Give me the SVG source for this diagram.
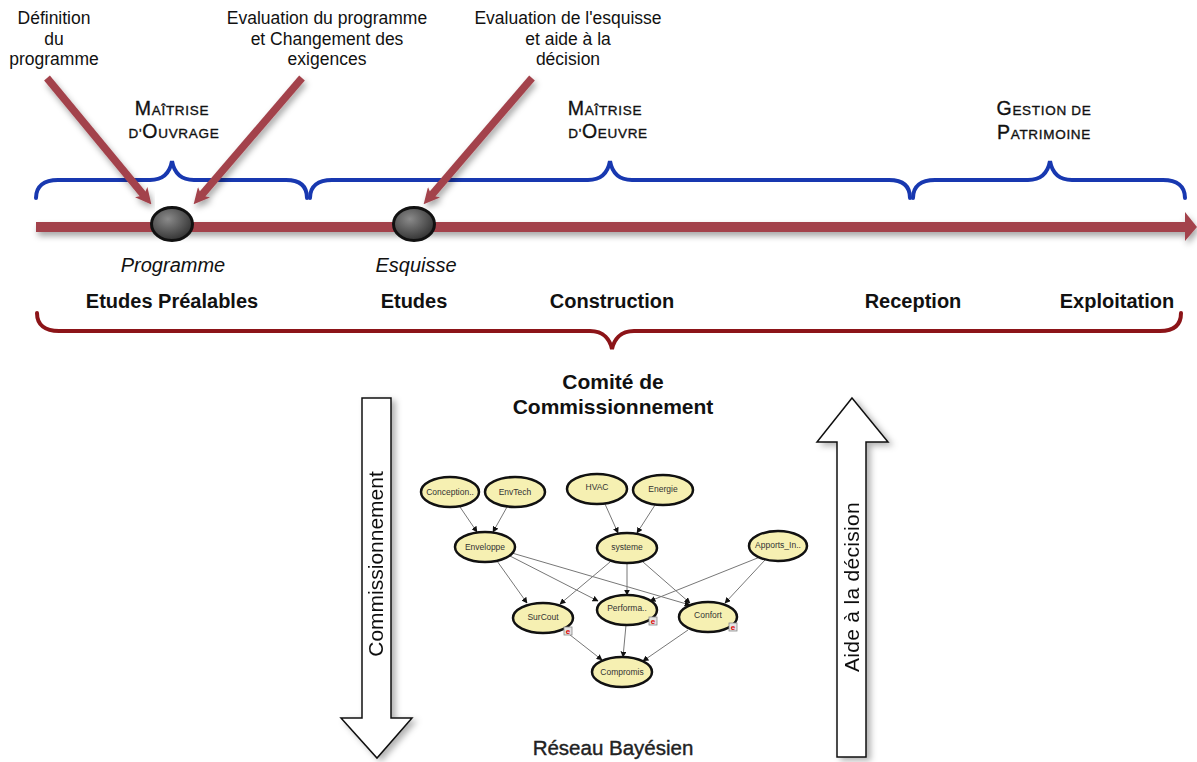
<svg xmlns="http://www.w3.org/2000/svg" width="1197" height="762" viewBox="0 0 1197 762">
<style>
  text { font-family: "Liberation Sans", Arial, sans-serif; fill: #111; }
  .top { font-size: 17.5px; text-anchor: middle; }
  .sc { text-anchor: middle; font-size: 13.5px; letter-spacing: 0.7px; stroke: #111; stroke-width: 0.35; }
  .sc .big { font-size: 19.5px; }
  .ital { font-size: 20px; font-style: italic; text-anchor: middle; }
  .phase { font-size: 20px; font-weight: bold; text-anchor: middle; }
  .comite { font-size: 21px; font-weight: bold; text-anchor: middle; }
  .vert { font-size: 21px; text-anchor: middle; }
  .brace-blue { fill: none; stroke: #1838b0; stroke-width: 4; stroke-linecap: round; }
  .brace-red { fill: none; stroke: #8c1418; stroke-width: 4; stroke-linecap: round; }
  .pointer { stroke: #a3434c; stroke-width: 7.5; fill: none; }
  .bigarrow { fill: #fff; stroke: #111; stroke-width: 1.5; }
  .bn ellipse { fill: #f6f0b2; stroke: #111; stroke-width: 2.5; }
  .bn text { font-size: 8.5px; fill: #333; text-anchor: middle; }
  .edge { stroke: #777; stroke-width: 1; fill: none; }
  .badge rect { fill: #e4e4e4; stroke: #888; stroke-width: 0.8; }
  .badge text { font-size: 8px; fill: #d00; font-weight: bold; text-anchor: middle; }
</style>
<defs>
  <filter id="shadow" x="-10%" y="-50%" width="120%" height="200%">
    <feDropShadow dx="2" dy="4" stdDeviation="3" flood-color="#000" flood-opacity="0.35"/>
  </filter>
  <filter id="shadow2" x="-30%" y="-10%" width="160%" height="120%">
    <feDropShadow dx="4" dy="3" stdDeviation="3" flood-color="#000" flood-opacity="0.3"/>
  </filter>
  <radialGradient id="dot" cx="0.4" cy="0.35" r="0.7">
    <stop offset="0" stop-color="#8a8a8a"/>
    <stop offset="1" stop-color="#2e2e2e"/>
  </radialGradient>
  <marker id="ptr" viewBox="0 0 16 16" markerWidth="16" markerHeight="16" refX="5" refY="8" orient="auto" markerUnits="userSpaceOnUse">
    <path d="M16,8 L0,0 L4,8 L0,16 Z" fill="#a3434c"/>
  </marker>
  <marker id="bnarr" viewBox="0 0 10 10" markerWidth="6" markerHeight="6" refX="9" refY="5" orient="auto" markerUnits="userSpaceOnUse">
    <path d="M0,0 L10,5 L0,10 Z" fill="#111"/>
  </marker>
</defs>

<g id="timeline" filter="url(#shadow)">
  <rect x="36" y="222" width="1150" height="10" fill="#a3434c"/>
  <polygon points="1185,212 1197,227 1185,241" fill="#a3434c"/>
</g>

<g id="braces">
  <path class="brace-blue" d="M36,198 C36,186 44,180 58,180 L150,180 C164,180 170,172 172,161 C174,172 180,180 194,180 L286,180 C300,180 307,186 307,198"/>
  <path class="brace-blue" d="M310,198 C310,186 318,180 332,180 L588,180 C602,180 608,172 610,161 C612,172 618,180 632,180 L889,180 C903,180 910,186 910,198"/>
  <path class="brace-blue" d="M913,198 C913,186 921,180 935,180 L1028,180 C1042,180 1048,172 1050,161 C1052,172 1058,180 1072,180 L1163,180 C1177,180 1185,186 1185,198"/>
  <path class="brace-red" d="M37,313 C37,325 45,331 59,331 L590,331 C604,331 610,340 612,349 C614,340 620,331 634,331 L1160,331 C1174,331 1181,325 1181,313"/>
</g>

<g id="connectors">
  <line class="pointer" x1="47" y1="78" x2="144.4" y2="196" marker-end="url(#ptr)" filter="url(#shadow)"/>
  <line class="pointer" x1="302" y1="78" x2="200.8" y2="196" marker-end="url(#ptr)" filter="url(#shadow)"/>
  <line class="pointer" x1="532" y1="78" x2="430.8" y2="196" marker-end="url(#ptr)" filter="url(#shadow)"/>
</g>

<g id="milestone-programme">
  <ellipse cx="172" cy="224" rx="20.5" ry="16.5" fill="url(#dot)" stroke="#111" stroke-width="3"/>
  <text class="ital" x="173" y="272">Programme</text>
</g>
<g id="milestone-esquisse">
  <ellipse cx="414" cy="224" rx="20.5" ry="16.5" fill="url(#dot)" stroke="#111" stroke-width="3"/>
  <text class="ital" x="416" y="272">Esquisse</text>
</g>

<g id="label-definition">
  <text class="top" x="54" y="24">Définition</text>
  <text class="top" x="54" y="45">du</text>
  <text class="top" x="54" y="65">programme</text>
</g>
<g id="label-evaluation-programme">
  <text class="top" x="327" y="24">Evaluation du programme</text>
  <text class="top" x="327" y="45">et Changement des</text>
  <text class="top" x="327" y="65">exigences</text>
</g>
<g id="label-evaluation-esquisse">
  <text class="top" x="568" y="24">Evaluation de l'esquisse</text>
  <text class="top" x="568" y="45">et aide à la</text>
  <text class="top" x="568" y="65">décision</text>
</g>

<g id="actor-moa">
  <text class="sc" x="172" y="115"><tspan class="big">M</tspan>AÎTRISE</text>
  <text class="sc" x="174" y="138">D'<tspan class="big">O</tspan>UVRAGE</text>
</g>
<g id="actor-moe">
  <text class="sc" x="605" y="115"><tspan class="big">M</tspan>AÎTRISE</text>
  <text class="sc" x="608" y="138">D'<tspan class="big">O</tspan>EUVRE</text>
</g>
<g id="actor-gp">
  <text class="sc" x="1044" y="115"><tspan class="big">G</tspan>ESTION DE</text>
  <text class="sc" x="1044" y="139"><tspan class="big">P</tspan>ATRIMOINE</text>
</g>

<g id="phases">
  <text class="phase" x="172" y="308">Etudes Préalables</text>
  <text class="phase" x="414" y="308">Etudes</text>
  <text class="phase" x="612" y="308">Construction</text>
  <text class="phase" x="913" y="308">Reception</text>
  <text class="phase" x="1117" y="308">Exploitation</text>
</g>

<g id="comite">
  <text class="comite" x="613" y="389">Comité de</text>
  <text class="comite" x="613" y="414">Commissionnement</text>
</g>

<g id="arrow-commissionnement" filter="url(#shadow2)">
  <path class="bigarrow" d="M362,398 L391,398 L391,718 L412,718 L377,758 L341,718 L362,718 Z"/>
  <text class="vert" transform="translate(383,564) rotate(-90)">Commissionnement</text>
</g>

<g id="arrow-aide" filter="url(#shadow2)">
  <path class="bigarrow" d="M852,398 L888,442 L866,442 L866,757 L837,757 L837,442 L817,442 Z"/>
  <text class="vert" transform="translate(859,587) rotate(-90)" style="letter-spacing:0.3px">Aide à la décision</text>
</g>

<g id="bn-edges">
  <line class="edge" x1="460" y1="507" x2="477" y2="532" marker-end="url(#bnarr)"/>
  <line class="edge" x1="507" y1="507" x2="493" y2="532" marker-end="url(#bnarr)"/>
  <line class="edge" x1="605" y1="504" x2="618" y2="533" marker-end="url(#bnarr)"/>
  <line class="edge" x1="655" y1="505" x2="637" y2="533" marker-end="url(#bnarr)"/>
  <line class="edge" x1="497" y1="561" x2="527" y2="603" marker-end="url(#bnarr)"/>
  <line class="edge" x1="510" y1="556" x2="598" y2="601" marker-end="url(#bnarr)"/>
  <line class="edge" x1="512" y1="553" x2="690" y2="605" marker-end="url(#bnarr)"/>
  <line class="edge" x1="610" y1="562" x2="560" y2="604" marker-end="url(#bnarr)"/>
  <line class="edge" x1="627" y1="563" x2="627" y2="595" marker-end="url(#bnarr)"/>
  <line class="edge" x1="643" y1="562" x2="690" y2="603" marker-end="url(#bnarr)"/>
  <line class="edge" x1="760" y1="557" x2="650" y2="601" marker-end="url(#bnarr)"/>
  <line class="edge" x1="765" y1="560" x2="725" y2="603" marker-end="url(#bnarr)"/>
  <line class="edge" x1="565" y1="631" x2="602" y2="660" marker-end="url(#bnarr)"/>
  <line class="edge" x1="626" y1="625" x2="623" y2="657" marker-end="url(#bnarr)"/>
  <line class="edge" x1="688" y1="630" x2="643" y2="661" marker-end="url(#bnarr)"/>
</g>

<g id="bn-conception" class="bn"><ellipse cx="450" cy="492" rx="29" ry="15"/><text x="450" y="495">Conception..</text></g>
<g id="bn-envtech" class="bn"><ellipse cx="515" cy="492" rx="30" ry="15"/><text x="515" y="495">EnvTech</text></g>
<g id="bn-hvac" class="bn"><ellipse cx="597" cy="489" rx="30" ry="15"/><text x="597" y="490">HVAC</text></g>
<g id="bn-energie" class="bn"><ellipse cx="663" cy="490" rx="30" ry="15"/><text x="663" y="492">Energie</text></g>
<g id="bn-enveloppe" class="bn"><ellipse cx="485" cy="547" rx="30" ry="15"/><text x="485" y="550">Enveloppe</text></g>
<g id="bn-systeme" class="bn"><ellipse cx="627" cy="548" rx="30" ry="15"/><text x="627" y="550">systeme</text></g>
<g id="bn-apports" class="bn"><ellipse cx="778" cy="546" rx="29" ry="15"/><text x="778" y="548">Apports_In..</text></g>
<g id="bn-surcout" class="bn"><ellipse cx="543" cy="618" rx="30" ry="15"/><text x="543" y="620">SurCout</text></g>
<g id="bn-performa" class="bn"><ellipse cx="627" cy="610" rx="30" ry="15"/><text x="627" y="611">Performa..</text></g>
<g id="bn-confort" class="bn"><ellipse cx="708" cy="617" rx="29" ry="15"/><text x="708" y="618">Confort</text></g>
<g id="bn-compromis" class="bn"><ellipse cx="622" cy="672" rx="30" ry="15"/><text x="622" y="675">Compromis</text></g>

<g id="bn-badges">
  <g class="badge"><rect x="564" y="627" width="8" height="8"/><text x="568" y="634">e</text></g>
  <g class="badge"><rect x="649" y="617" width="8" height="8"/><text x="653" y="624">e</text></g>
  <g class="badge"><rect x="729" y="623" width="8" height="8"/><text x="733" y="630">e</text></g>
</g>

<g id="reseau">
  <text x="613" y="755" style="font-size:20.5px;text-anchor:middle;fill:#222;stroke:#222;stroke-width:0.4">Réseau Bayésien</text>
</g>
</svg>
